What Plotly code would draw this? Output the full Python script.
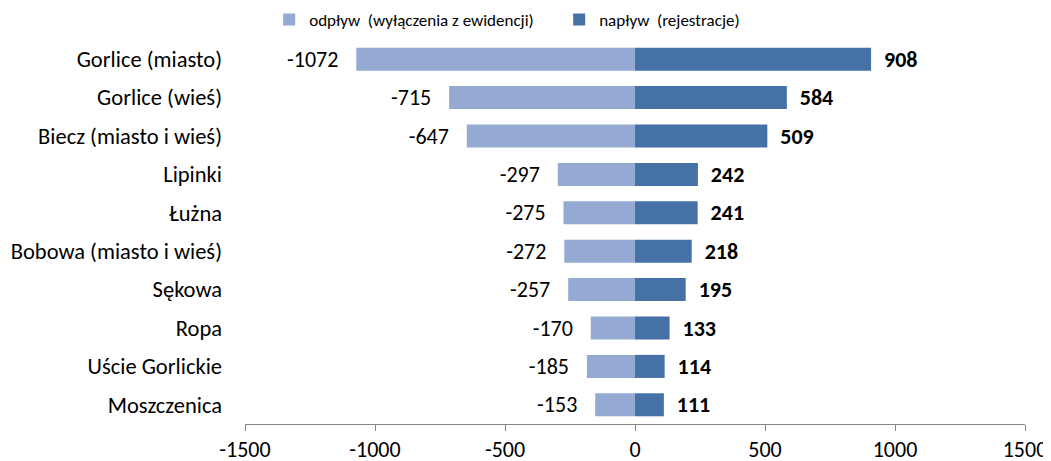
import plotly.graph_objects as go

categories = ["Gorlice (miasto)", "Gorlice (wieś)", "Biecz (miasto i wieś)", "Lipinki", "Łużna",
              "Bobowa (miasto i wieś)", "Sękowa", "Ropa", "Uście Gorlickie", "Moszczenica"]
outflow = [-1072, -715, -647, -297, -275, -272, -257, -170, -185, -153]
inflow = [908, 584, 509, 242, 241, 218, 195, 133, 114, 111]
x_ticks = [-1500, -1000, -500, 0, 500, 1000, 1500]
series_names = ["odpływ  (wyłączenia z ewidencji)", "napływ  (rejestracje)"]

FONT = "Carlito, Calibri, 'Liberation Sans Narrow', Lato, sans-serif"
NB = "\u00a0"

fig = go.Figure()
fig.add_trace(go.Bar(
    y=categories, x=outflow, orientation="h", name=series_names[0],
    marker=dict(color="#95AAD3", line=dict(width=0)),
    text=[str(v) for v in outflow], texttemplate="%{text}" + NB * 3,
    textposition="outside", cliponaxis=False, constraintext="none",
    textfont=dict(family=FONT, size=22, color="#000000"),
))
fig.add_trace(go.Bar(
    y=categories, x=inflow, orientation="h", name=series_names[1],
    marker=dict(color="#4571A7", line=dict(width=0)),
    text=[str(v) for v in inflow], texttemplate=NB * 2 + "<b>%{text}</b>",
    textposition="outside", cliponaxis=False, constraintext="none",
    textfont=dict(family=FONT, size=22, color="#000000"),
))

n = len(categories)
fig.update_layout(
    width=1043, height=453,
    margin=dict(l=237, r=26, t=32, b=37, autoexpand=False),
    paper_bgcolor="white", plot_bgcolor="white",
    barmode="relative", bargap=0.4,
    font=dict(family=FONT, size=17, color="#000000"),
    showlegend=True,
    legend=dict(orientation="h", x=0.031, xanchor="left", xref="paper",
                y=1 - 12 / 453, yanchor="middle", yref="container",
                font=dict(family=FONT, size=17, color="#000000"),
                itemwidth=30, traceorder="normal", entrywidth=245, entrywidthmode="pixels",
                bgcolor="rgba(0,0,0,0)"),
    xaxis=dict(range=[-1500, 1500], tickvals=x_ticks, ticktext=[str(t) for t in x_ticks],
               showgrid=False, zeroline=False, showline=True, linecolor="#868686", linewidth=1,
               ticks="outside", ticklen=6, tickcolor="#868686", automargin=False,
               ticklabelstandoff=0,
               tickfont=dict(family=FONT, size=22, color="#000000")),
    yaxis=dict(autorange="reversed", showgrid=False, zeroline=False, showline=False,
               ticks="", ticklabelstandoff=22, automargin=False,
               tickfont=dict(family=FONT, size=22.5, color="#000000")),
    yaxis2=dict(overlaying="y", anchor="free", position=0.5, side="left",
                range=[n - 0.5, -0.5], tickvals=[i - 0.5 for i in range(n + 1)],
                showticklabels=False, showgrid=False, zeroline=False, automargin=False,
                showline=True, linecolor="#868686", linewidth=1,
                ticks="outside", ticklen=5, tickcolor="#868686"),
)
fig.write_html("out.html")
